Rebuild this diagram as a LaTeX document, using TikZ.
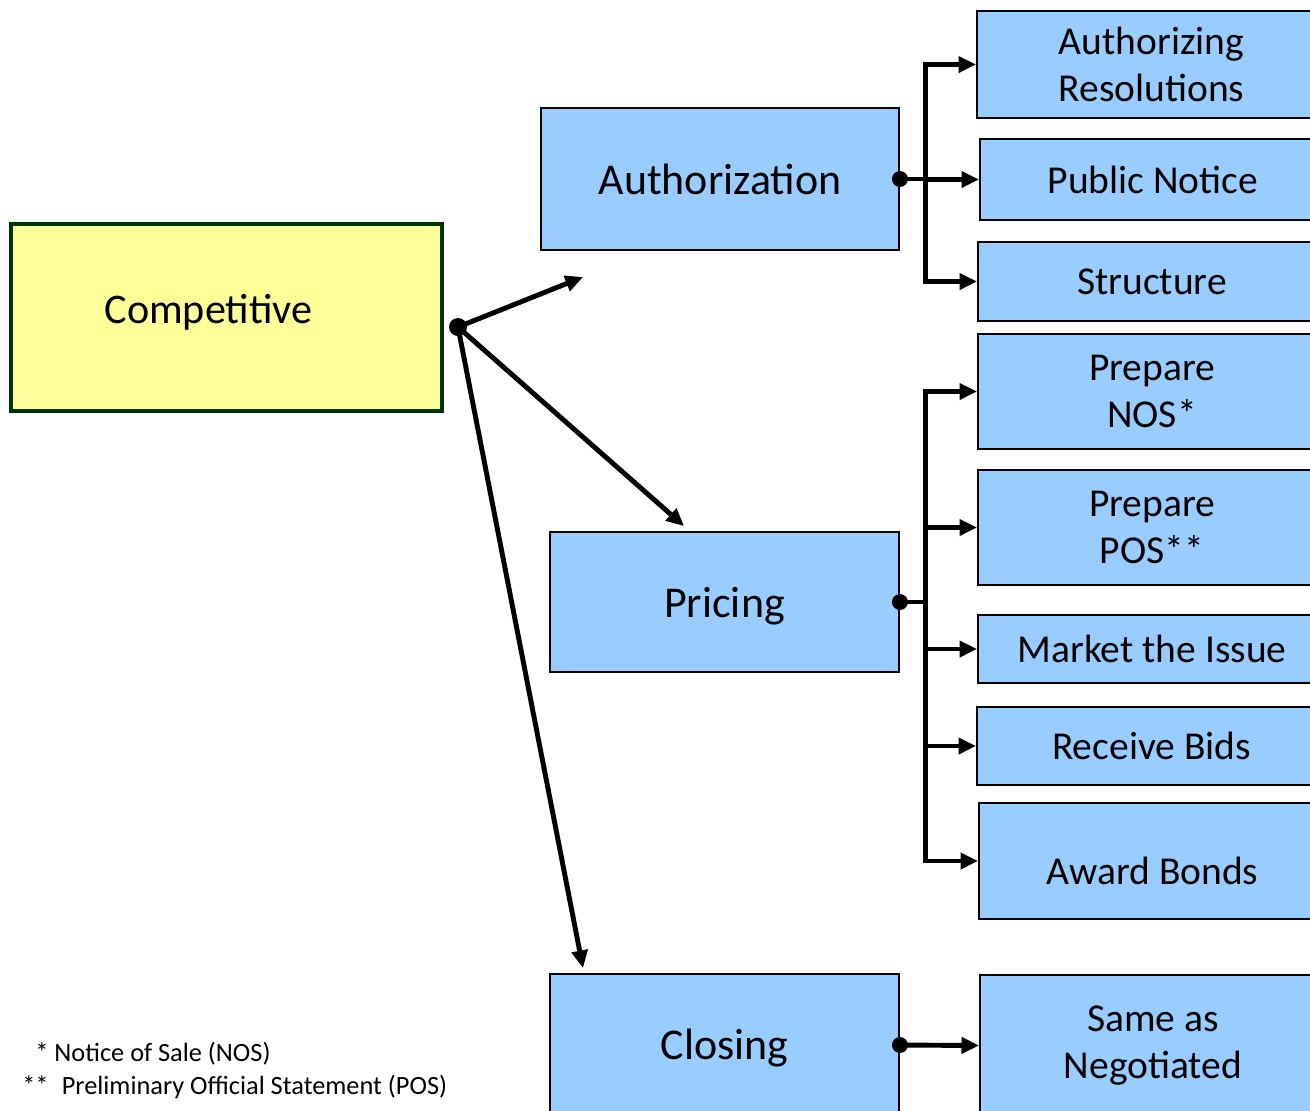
\documentclass[tikz,border=0pt]{standalone}
\usepackage{fontspec}
\setmainfont{Carlito}
\usetikzlibrary{arrows.meta,calc}
\definecolor{boxblue}{RGB}{153,204,255}
\definecolor{padyellow}{RGB}{255,255,153}
\definecolor{padgreen}{RGB}{0,51,0}
\tikzset{
  stage/.style={draw=black, line width=1.1pt, fill=boxblue, inner sep=0pt, align=center,
    font=\fontsize{25}{30}\selectfont},
  task/.style={stage, font=\fontsize{22.5}{26.6}\selectfont},
  flow/.style={line width=2.8pt, -{Triangle[length=10pt,width=9pt]}},
  note/.style={anchor=west, inner sep=0pt, font=\fontsize{15}{18}\selectfont},
}
\begin{document}
\begin{tikzpicture}[x=0.02cm,y=-0.02cm]
\useasboundingbox (0,0) rectangle (1310,1110);
\clip (0,0) rectangle (1310,1110);
\fill[white] (0,0) rectangle (1310,1110);
% main boxes
\node[draw=padgreen, line width=2.3pt, fill=padyellow, inner sep=0pt,
  minimum width=8.62cm, minimum height=3.74cm,
  font=\fontsize{24}{29}\selectfont] (comp) at (226.5,317.5)
  {\raisebox{0.1cm}[\height][\depth]{Competitive}\hspace*{0.72cm}};
\node[stage, minimum width=7.16cm, minimum height=2.84cm] (auth) at (720,179) {Authorization};
\node[stage, minimum width=6.98cm, minimum height=2.8cm] (pric) at (724.5,602)
  {\raisebox{-0.08cm}[\height][\depth]{Pricing}};
\node[stage, minimum width=6.98cm, minimum height=2.84cm] (clos) at (724.5,1045)
  {\raisebox{-0.06cm}[\height][\depth]{Closing}};
% right column
\node[task, minimum width=6.98cm, minimum height=2.14cm] (resol) at (1151.5,64.5) {Authorizing\\Resolutions};
\node[task, minimum width=6.92cm, minimum height=1.62cm] (notice) at (1153,179.5) {Public Notice};
\node[task, minimum width=6.96cm, minimum height=1.58cm] (struc) at (1152,281.5) {Structure};
\node[task, minimum width=6.96cm, minimum height=2.3cm] (nos) at (1152,391.5) {Prepare\\NOS*};
\node[task, minimum width=6.96cm, minimum height=2.3cm] (pos) at (1152,527.5) {Prepare\\POS**};
\node[task, minimum width=6.96cm, minimum height=1.36cm] (market) at (1152,649) {Market the Issue};
\node[task, minimum width=6.98cm, minimum height=1.56cm] (bids) at (1151.5,746) {Receive Bids};
\node[task, minimum width=6.94cm, minimum height=2.32cm] (award) at (1152.5,861) {\mbox{}\\Award Bonds};
\node[task, minimum width=6.92cm, minimum height=2.82cm] (same) at (1153,1045.5) {Same as\\Negotiated};
% footnotes
\node[note] (fnA) at (35,1054) {* Notice of Sale (NOS)};
\node[note] (fnB) at (22,1087) {**\enspace Preliminary Official Statement (POS)};
% arrows out of Competitive
\coordinate (hub) at (458,327);
\coordinate (authtip) at (583,277);
\coordinate (prictip) at (684,526);
\coordinate (clostip) at (583,968);
\draw[flow] (hub) -- (authtip);
\draw[flow] (hub) -- (prictip);
\draw[flow] (hub) -- (clostip);
\fill (hub) circle[radius=0.18cm];
% Authorization bus
\coordinate (authbus) at ($(auth.east)+(26,0)$);
\draw[line width=2.8pt] (auth.east) -- (authbus);
\draw[flow] (authbus) |- (resol.west);
\draw[flow] (authbus) |- (notice.west);
\draw[flow] (authbus) |- (struc.west);
\fill (auth.east) circle[radius=0.16cm];
% Pricing bus
\coordinate (pricbus) at ($(pric.east)+(26,0)$);
\draw[line width=2.8pt] (pric.east) -- (pricbus);
\foreach \t in {nos,pos,market,bids,award}
  \draw[flow] (pricbus) |- (\t.west);
\fill (pric.east) circle[radius=0.16cm];
% Closing
\draw[flow] (clos.east) -- (same.west);
\fill (clos.east) circle[radius=0.16cm];
\end{tikzpicture}
\end{document}
